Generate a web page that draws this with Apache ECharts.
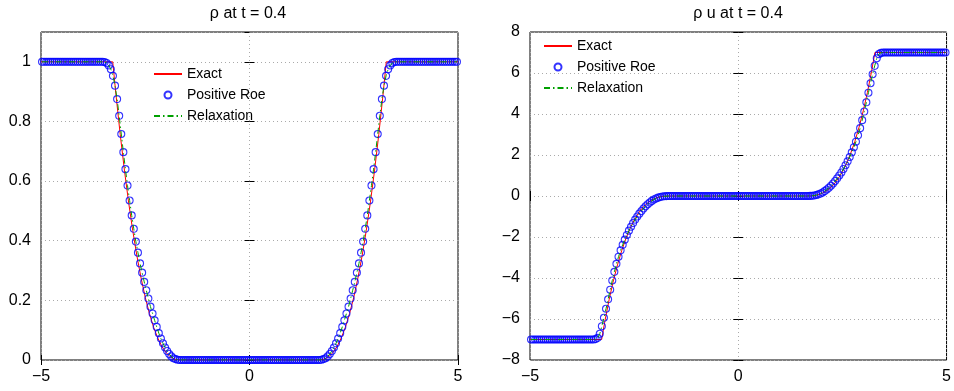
<!DOCTYPE html>
<html>
<head>
<meta charset="utf-8">
<script src="https://cdn.jsdelivr.net/npm/echarts@6/dist/echarts.min.js"></script>
<style>html,body{margin:0;padding:0;background:#fff}#chart{width:954px;height:391px}</style>
</head>
<body>
<div id="chart"></div>
<script>
// mesh: 200 cells on [-5, 5], values are cell averages
const nCells = 200, xLeft = -5, xRight = 5;

// density, Positive Roe scheme
const roeRho = [
  1,1,1,1,1,1,1,1,1,1, 1,1,1,1,1,1,1,1,1,1, 1,1,1,1,1,1,1,1,1,1,
  0.999,0.996,0.988,0.975,0.953,0.920,0.875,0.819,0.758,0.697,
  0.640,0.585,0.535,0.485,0.440,0.397,0.360,0.324,0.293,0.262,
  0.234,0.206,0.179,0.156,0.133,0.111,0.090,0.072,0.056,0.042,
  0.030,0.020,0.012,0.006,0.003,0.001,0,0,0,0,
  0,0,0,0,0,0,0,0,0,0, 0,0,0,0,0,0,0,0,0,0, 0,0,0,0,0,0,0,0,0,0,
  0,0,0,0,0,0,0,0,0,0, 0,0,0,0,0,0,0,0,0,0, 0,0,0,0,0,0,0,0,0,0,
  0,0,0,0,0.001,0.003,0.006,0.012,0.020,0.030,
  0.042,0.056,0.072,0.090,0.111,0.133,0.156,0.179,0.206,0.234,
  0.262,0.293,0.324,0.360,0.397,0.440,0.485,0.535,0.585,0.640,
  0.697,0.758,0.819,0.875,0.920,0.953,0.975,0.988,0.996,0.999,
  1,1,1,1,1,1,1,1,1,1, 1,1,1,1,1,1,1,1,1,1, 1,1,1,1,1,1,1,1,1,1
];
// density, relaxation scheme
const relaxRho = [
  1,1,1,1,1,1,1,1,1,1, 1,1,1,1,1,1,1,1,1,1, 1,1,1,1,1,1,1,1,1,1,
  0.999,0.996,0.988,0.975,0.953,0.920,0.875,0.819,0.758,0.697,
  0.640,0.585,0.535,0.485,0.440,0.397,0.360,0.324,0.293,0.262,
  0.234,0.206,0.179,0.156,0.133,0.111,0.090,0.072,0.056,0.042,
  0.030,0.020,0.012,0.006,0.003,0.001,0,0,0,0,
  0,0,0,0,0,0,0,0,0,0, 0,0,0,0,0,0,0,0,0,0, 0,0,0,0,0,0,0,0,0,0,
  0,0,0,0,0,0,0,0,0,0, 0,0,0,0,0,0,0,0,0,0, 0,0,0,0,0,0,0,0,0,0,
  0,0,0,0,0.001,0.003,0.006,0.012,0.020,0.030,
  0.042,0.056,0.072,0.090,0.111,0.133,0.156,0.179,0.206,0.234,
  0.262,0.293,0.324,0.360,0.397,0.440,0.485,0.535,0.585,0.640,
  0.697,0.758,0.819,0.875,0.920,0.953,0.975,0.988,0.996,0.999,
  1,1,1,1,1,1,1,1,1,1, 1,1,1,1,1,1,1,1,1,1, 1,1,1,1,1,1,1,1,1,1
];
// momentum, Positive Roe scheme
const roeMom = [
  -7,-7,-7,-7,-7,-7,-7,-7,-7,-7, -7,-7,-7,-7,-7,-7,-7,-7,-7,-7, -7,-7,-7,-7,-7,-7,-7,-7,-7,-7,
  -7.00,-6.98,-6.92,-6.72,-6.35,-5.94,-5.50,-5.04,-4.57,-4.12,
  -3.70,-3.31,-2.96,-2.65,-2.38,-2.13,-1.90,-1.69,-1.50,-1.32,
  -1.15,-1.00,-0.86,-0.73,-0.61,-0.50,-0.40,-0.32,-0.24,-0.17,
  -0.12,-0.080,-0.050,-0.027,-0.013,-0.005,-0.002,0,0,0,
  0,0,0,0,0,0,0,0,0,0, 0,0,0,0,0,0,0,0,0,0, 0,0,0,0,0,0,0,0,0,0,
  0,0,0,0,0,0,0,0,0,0, 0,0,0,0,0,0,0,0,0,0, 0,0,0,0,0,0,0,0,0,0,
  0,0,0,0.002,0.005,0.013,0.027,0.050,0.080,0.12,
  0.17,0.24,0.32,0.40,0.50,0.61,0.73,0.86,1.00,1.15,
  1.32,1.50,1.69,1.90,2.13,2.38,2.65,2.96,3.31,3.70,
  4.12,4.57,5.04,5.50,5.94,6.35,6.72,6.92,6.98,7.00,
  7,7,7,7,7,7,7,7,7,7, 7,7,7,7,7,7,7,7,7,7, 7,7,7,7,7,7,7,7,7,7
];
// momentum, relaxation scheme
const relaxMom = [
  -7,-7,-7,-7,-7,-7,-7,-7,-7,-7, -7,-7,-7,-7,-7,-7,-7,-7,-7,-7, -7,-7,-7,-7,-7,-7,-7,-7,-7,-7,
  -7.00,-6.98,-6.92,-6.72,-6.35,-5.94,-5.50,-5.04,-4.57,-4.12,
  -3.70,-3.31,-2.96,-2.65,-2.38,-2.13,-1.90,-1.69,-1.50,-1.32,
  -1.15,-1.00,-0.86,-0.73,-0.61,-0.50,-0.40,-0.32,-0.24,-0.17,
  -0.12,-0.080,-0.050,-0.027,-0.013,-0.005,-0.002,0,0,0,
  0,0,0,0,0,0,0,0,0,0, 0,0,0,0,0,0,0,0,0,0, 0,0,0,0,0,0,0,0,0,0,
  0,0,0,0,0,0,0,0,0,0, 0,0,0,0,0,0,0,0,0,0, 0,0,0,0,0,0,0,0,0,0,
  0,0,0,0.002,0.005,0.013,0.027,0.050,0.080,0.12,
  0.17,0.24,0.32,0.40,0.50,0.61,0.73,0.86,1.00,1.15,
  1.32,1.50,1.69,1.90,2.13,2.38,2.65,2.96,3.31,3.70,
  4.12,4.57,5.04,5.50,5.94,6.35,6.72,6.92,6.98,7.00,
  7,7,7,7,7,7,7,7,7,7, 7,7,7,7,7,7,7,7,7,7, 7,7,7,7,7,7,7,7,7,7
];

// exact solution, sampled along x
const exactX = [-5, -3.28, -3.2, -3.1, -3.0, -2.9, -2.8, -2.7, -2.6, -2.5, -2.4, -2.3, -2.2, -2.1, -2.0, -1.9, -1.8, -1.66,
                1.66, 1.8, 1.9, 2.0, 2.1, 2.2, 2.3, 2.4, 2.5, 2.6, 2.7, 2.8, 2.9, 3.0, 3.1, 3.2, 3.28, 5];
const exactRho = [1, 1, 0.887, 0.756, 0.637, 0.530, 0.434, 0.349, 0.275, 0.210, 0.156, 0.110, 0.074, 0.045, 0.025, 0.011, 0.003, 0,
                  0, 0.003, 0.011, 0.025, 0.045, 0.074, 0.110, 0.156, 0.210, 0.275, 0.349, 0.434, 0.530, 0.637, 0.756, 0.887, 1, 1];
const exactMom = [-7, -7, -6.08, -5.05, -4.15, -3.36, -2.67, -2.09, -1.59, -1.18, -0.85, -0.58, -0.38, -0.22, -0.12, -0.05, -0.01, 0,
                  0, 0.01, 0.05, 0.12, 0.22, 0.38, 0.58, 0.85, 1.18, 1.59, 2.09, 2.67, 3.36, 4.15, 5.05, 6.08, 7, 7];

const titles = ['\u03c1 at t = 0.4', '\u03c1 u at t = 0.4'];

const FONT = 'Liberation Sans, Arial, Helvetica, sans-serif';

const cellX = [];
for (let i = 0; i < nCells; i++) {
  cellX.push(+(xLeft + (i + 0.5) * (xRight - xLeft) / nCells).toFixed(4));
}
const pairs = (xs, ys) => xs.map((x, i) => [x, ys[i]]);
const minus = v => String(v).replace('-', '\u2212');

function xAxes(grid) {
  return [
    { gridIndex: grid, type: 'value', min: -5, max: 5, interval: 5, position: 'bottom',
      axisLine: { show: false },
      axisTick: { inside: true, length: 5, lineStyle: { color: '#000' } },
      axisLabel: { color: '#000', fontSize: 16, fontFamily: FONT, margin: 9, formatter: minus },
      splitLine: { show: true, lineStyle: { color: '#aaa', type: [1, 3], width: 1 } } },
    { gridIndex: grid, type: 'value', min: -5, max: 5, interval: 5, position: 'top',
      axisLine: { show: false },
      axisTick: { inside: true, length: 5, lineStyle: { color: '#000' } },
      axisLabel: { show: false }, splitLine: { show: false } }
  ];
}
function yAxes(grid, min, max, step) {
  return [
    { gridIndex: grid, type: 'value', min: min, max: max, interval: step, position: 'left',
      axisLine: { show: false },
      axisTick: { inside: true, length: 5, lineStyle: { color: '#000' } },
      axisLabel: { color: '#000', fontSize: 16, fontFamily: FONT, margin: 10, formatter: minus, showMaxLabel: max === 8 },
      splitLine: { show: true, lineStyle: { color: '#aaa', type: [1, 3], width: 1 } } },
    { gridIndex: grid, type: 'value', min: min, max: max, interval: step, position: 'right',
      axisLine: { show: false },
      axisTick: { inside: true, length: 5, lineStyle: { color: '#000' } },
      axisLabel: { show: false }, splitLine: { show: false } }
  ];
}

function panelSeries(axis, exactY, roeY, relaxY) {
  return [
    { name: 'Exact', type: 'line', xAxisIndex: axis, yAxisIndex: axis, data: pairs(exactX, exactY),
      symbol: 'none', lineStyle: { color: '#ff0000', width: 1 }, itemStyle: { color: '#ff0000' }, z: 2 },
    { name: 'Positive Roe', type: 'scatter', xAxisIndex: axis, yAxisIndex: axis, data: pairs(cellX, roeY),
      symbol: 'circle', symbolSize: 7, clip: false,
      itemStyle: { color: 'rgba(0,0,0,0)', borderColor: '#0000ff', borderWidth: 1.1 }, z: 3 },
    { name: 'Relaxation', type: 'line', xAxisIndex: axis, yAxisIndex: axis, data: pairs(cellX, relaxY),
      symbol: 'none', lineStyle: { color: '#00a000', width: 1, type: [6, 3, 1.5, 3] }, itemStyle: { color: '#00a000' }, z: 4 }
  ];
}

const legendCommon = {
  orient: 'vertical', itemWidth: 28, itemHeight: 7, itemGap: 7,
  data: [
    { name: 'Exact', itemStyle: { opacity: 0 } },
    { name: 'Positive Roe' },
    { name: 'Relaxation', itemStyle: { opacity: 0 } }
  ],
  textStyle: { color: '#000', fontSize: 14, fontFamily: FONT }, selectedMode: false
};

const chart = echarts.init(document.getElementById('chart'), null, { renderer: 'canvas' });
chart.setOption({
  animation: false,
  backgroundColor: '#fff',
  graphic: [
    { type: 'text', x: 248, y: 6, style: { text: titles[0], textAlign: 'center', fontSize: 16, fontFamily: FONT, fill: '#000' } },
    { type: 'text', x: 738, y: 6, style: { text: titles[1], textAlign: 'center', fontSize: 16, fontFamily: FONT, fill: '#000' } }
  ],
  grid: [
    { left: 41, right: 496, top: 32, bottom: 31, show: true, borderColor: '#000', borderWidth: 1, backgroundColor: '#fff' },
    { left: 530, right: 7, top: 32, bottom: 31, show: true, borderColor: '#000', borderWidth: 1, backgroundColor: '#fff' }
  ],
  legend: [
    Object.assign({ left: 148, top: 62 }, legendCommon),
    Object.assign({ left: 538, top: 34 }, legendCommon)
  ],
  xAxis: xAxes(0).concat(xAxes(1)),
  yAxis: yAxes(0, 0, 1.1, 0.2).concat(yAxes(1, -8, 8, 2)),
  series: panelSeries(0, exactRho, roeRho, relaxRho).concat(panelSeries(2, exactMom, roeMom, relaxMom))
});
</script>
</body>
</html>
